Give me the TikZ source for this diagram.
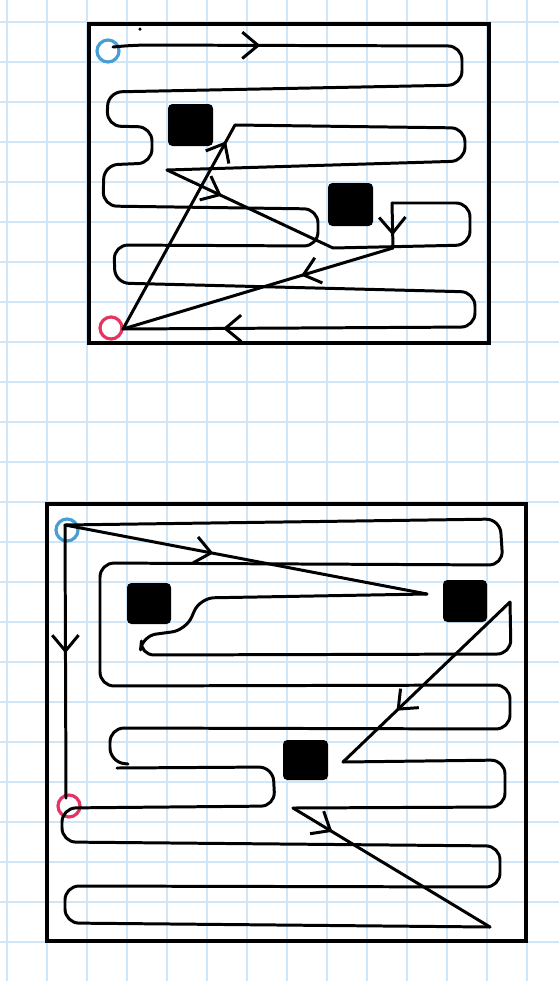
\documentclass[tikz,border=0pt]{standalone}
\usepackage{xcolor}
\usetikzlibrary{arrows.meta, decorations.markings}

\definecolor{gridblue}{RGB}{206,230,248}
\definecolor{startblue}{RGB}{70,158,212}
\definecolor{endred}{RGB}{228,52,98}

\begin{document}
\begin{tikzpicture}[x=0.02cm, y=-0.02cm,
  barb/.tip={Straight Barb[length=9pt, width=15pt]},
  gridline/.style={gridblue, line width=1.1pt},
  boxline/.style={line width=2pt},
  trail/.style={line width=1.7pt, line cap=round, line join=round, rounded corners=8pt},
  obstacle/.style={fill=black, rounded corners=2.5pt},
  startpt/.style={startblue, line width=1.8pt},
  endpt/.style={endred, line width=1.8pt},
  headat/.style={postaction={decorate}, decoration={markings,
      mark=at position #1 with {\arrow{barb}}}},
  headtwo/.style 2 args={postaction={decorate}, decoration={markings,
      mark=at position #1 with {\arrow{barb}},
      mark=at position #2 with {\arrow{barb}}}}]
  \useasboundingbox (0,0) rectangle (559,981);

  % Grid paper
  \foreach \gx in {7,47,...,527}
    \draw[gridline] (\gx,0) -- (\gx,981);
  \foreach \gy in {22,62,...,942}
    \draw[gridline] (0,\gy) -- (559,\gy);

  % ---------------- Top plan ----------------
  \draw[boxline] (89,24) rectangle (489,343);
  \fill[obstacle] (168,104) rectangle (213,146);
  \fill[obstacle] (328,183) rectangle (373,226);
  \fill (140,29) circle[radius=0.035cm];

  % Start and end
  \draw[startpt] (108,51) circle[radius=0.22cm];
  \draw[endpt] (111,328) circle[radius=0.22cm];

  \coordinate (tS) at (113,47);
  \coordinate (tE) at (123,329);
  \coordinate (tI) at (235,125);
  \coordinate (tJ) at (167,170);
  \coordinate (tK) at (333,248);
  \coordinate (tL) at (392,203);
  \coordinate (tM) at (393,248);

  % Outer sweep
  \draw[trail, headtwo={2.95cm}{-2cm}] (tS) -- (135,45) -- (462,46) -- (462,85)
    -- (108,92) -- (107,126) -- (152,127) -- (152,163) -- (104,165) -- (103,206)
    -- (318,209) -- (318,246) -- (114,245) -- (115,283) -- (475,292) -- (475,327) -- (tE);

  % Inner sweep
  \draw[trail, headat=0.92] (tE) -- (tI);
  \draw[trail] (tI) -- (465,128) -- (465,161) -- (tJ);
  \draw[trail, headat=0.33] (tJ) -- (tK);
  \draw[trail] (tK) -- (470,245) -- (470,203) -- (tL);
  \draw[trail, headat=0.72] (tL) -- (tM);
  \draw[trail, headat=0.34] (tM) -- (tE);

  % ---------------- Bottom plan ----------------
  \draw[boxline] (47,504) rectangle (526,941);
  \fill[obstacle] (127,583) rectangle (171,624);
  \fill[obstacle] (443,580) rectangle (487,622);
  \fill[obstacle] (283,740) rectangle (328,780);

  % Start and end
  \draw[startpt] (67,530) circle[radius=0.22cm];
  \draw[endpt] (69,806) circle[radius=0.22cm];

  \coordinate (bS) at (65,525);
  \coordinate (bR) at (66,798);
  \coordinate (bA) at (427,594);
  \coordinate (bB) at (510,602);
  \coordinate (bC) at (343,762);
  \coordinate (bD) at (293,808);
  \coordinate (bE) at (128,764);
  \coordinate (bF) at (117,768);
  \coordinate (bG) at (490,927);

  % Straight down to the end
  \draw[trail, headat=0.47] (bS) -- (bR);

  % Upper sweep
  \draw[trail] (bS) -- (500,519) -- (503,565) -- (100,563) -- (100,686)
    -- (510,685) -- (510,729) -- (110,728) -- (110,762) -- (bE);

  % Diagonal jumps
  \draw[trail, headat=0.41] (bS) -- (bA);
  \draw[trail] (bA) -- (200,598) -- (186,630) -- (142,636) -- (140,655)
    -- (511,654) -- (bB);
  \draw[trail, headat=0.68] (bB) -- (bC);
  \draw[trail] (bC) -- (505,760) -- (505,807) -- (bD);
  \draw[trail, headat=0.2] (bD) -- (bG);

  % Lower sweep
  \draw[trail] (bF) -- (273,767) -- (275,806) -- (62,808) -- (62,842)
    -- (500,846) -- (500,887) -- (65,886) -- (65,923) -- (bG);
\end{tikzpicture}
\end{document}
